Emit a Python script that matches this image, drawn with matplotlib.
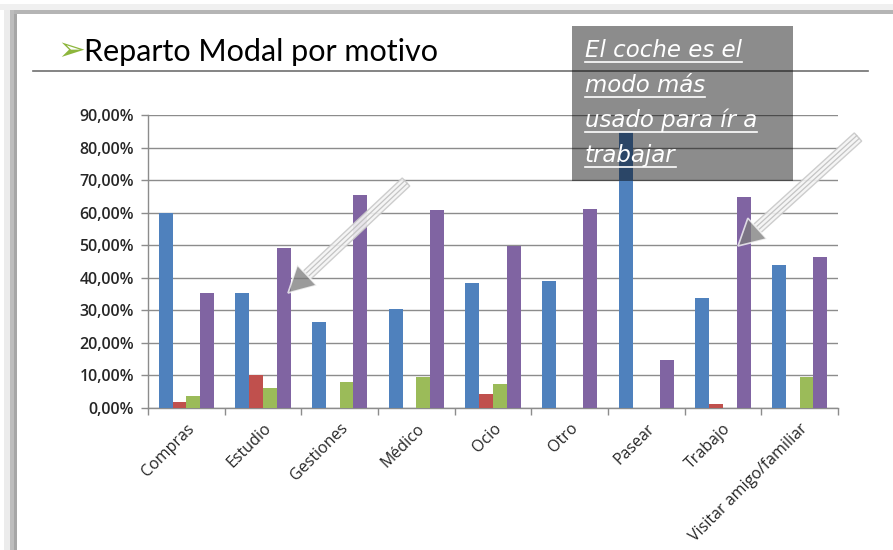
import numpy as np
import matplotlib
matplotlib.use('Agg')
import matplotlib.pyplot as plt
from matplotlib.patches import Rectangle, Polygon
from matplotlib.ticker import FuncFormatter, FixedLocator

motivos = ['Compras', 'Estudio', 'Gestiones', 'Médico', 'Ocio', 'Otro',
           'Pasear', 'Trabajo', 'Visitar amigo/familiar']
serie_azul = [60.0, 35.2, 26.5, 30.3, 38.4, 39.0, 84.8, 33.8, 44.0]
serie_roja = [1.9, 10.0, 0.0, 0.0, 4.3, 0.0, 0.0, 1.2, 0.0]
serie_verde = [3.7, 6.0, 8.1, 9.4, 7.3, 0.0, 0.0, 0.0, 9.4]
serie_morada = [35.2, 49.0, 65.3, 60.7, 49.8, 61.1, 14.7, 64.8, 46.5]
colores = ['#4F81BD', '#C0504D', '#9BBB59', '#8064A2']

titulo = 'Reparto Modal por motivo'
nota = ['El coche es el', 'modo más', 'usado para ír a', 'trabajar']

W, H = 893, 550
fig = plt.figure(figsize=(W / 100, H / 100), dpi=100)
fig.patch.set_facecolor('white')


def px_axes(x0, y0, x1, y1):
    # axes box given in pixel coords (y measured from top)
    return [x0 / W, 1 - y1 / H, (x1 - x0) / W, (y1 - y0) / H]


ax = fig.add_axes(px_axes(148, 115, 838, 408))
x = np.arange(len(motivos))
bw = 0.18
for k, serie in enumerate([serie_azul, serie_roja, serie_verde, serie_morada]):
    ax.bar(x + (k - 1.5) * bw, serie, width=bw, color=colores[k], linewidth=0, zorder=3)

ax.set_xlim(-0.5, len(motivos) - 0.5)
ax.set_ylim(0, 90)
ax.set_yticks(np.arange(0, 91, 10))
ax.yaxis.set_major_formatter(FuncFormatter(lambda v, p: f'{v:.2f}%'.replace('.', ',')))
ax.yaxis.grid(True, color='#8c8c8c', linewidth=1, zorder=0)
ax.set_axisbelow(True)

ax.set_xticks(x)
ax.set_xticklabels(motivos, rotation=45, ha='right', rotation_mode='anchor',
                   fontsize=11.5, family='Open Sans', color='#262626')
ax.xaxis.set_minor_locator(FixedLocator(np.arange(-0.5, len(motivos), 1.0)))
ax.tick_params(axis='x', which='major', length=0, pad=9)
ax.tick_params(axis='x', which='minor', length=5, color='#8c8c8c', width=1)
ax.tick_params(axis='y', length=5, color='#8c8c8c', width=1, pad=5,
               labelsize=11.5, labelcolor='#262626')
for lab in ax.get_yticklabels():
    lab.set_family('Open Sans')
    lab.set_fontweight('semibold')

for s in ['top', 'right']:
    ax.spines[s].set_visible(False)
for s in ['left', 'bottom']:
    ax.spines[s].set_color('#8c8c8c')
    ax.spines[s].set_linewidth(1)

# overlay in pixel coordinates for slide decorations
ov = fig.add_axes([0, 0, 1, 1])
ov.set_xlim(0, W)
ov.set_ylim(H, 0)
ov.axis('off')
ov.patch.set_alpha(0)

# slide frame
ov.add_patch(Rectangle((0, 4), W, 6, color='#f0f0f0', lw=0))
ov.add_patch(Rectangle((9, 10), W, 4, color='#b5b5b5', lw=0))
ov.add_patch(Rectangle((4, 10), 6, H, color='#ececec', lw=0))
ov.add_patch(Rectangle((10, 10), 4, H, color='#bdbdbd', lw=0))
ov.add_patch(Rectangle((14, 14), 3, H, color='#a6a6a6', lw=0))

# title
ov.text(57, 51, '➢', fontsize=24, color='#8DB63C', family='DejaVu Sans', va='center', ha='left')
ov.text(84, 52, titulo, fontsize=22, color='black', family='Lato', va='center', ha='left')
ov.plot([33, 868], [71, 71], color='#6f6f6f', lw=1.2)


def flecha(tail, tip, shaft_w=11, head_w=28, head_l=26):
    t = np.array(tail, float)
    p = np.array(tip, float)
    u = (p - t) / np.linalg.norm(p - t)
    n = np.array([-u[1], u[0]])
    base = p - u * head_l
    shaft = [t + n * shaft_w / 2, base + n * shaft_w / 2,
             base - n * shaft_w / 2, t - n * shaft_w / 2]
    ov.add_patch(Polygon(shaft, closed=True, facecolor='#f4f4f4', edgecolor='#c8c8c8',
                         lw=1, alpha=0.9, zorder=5))
    for f in (-0.17, 0.17):
        a = t + n * shaft_w * f
        b = base + n * shaft_w * f
        ov.plot([a[0], b[0]], [a[1], b[1]], color='#c4c4c4', lw=0.9, zorder=6)
    head = [p, base + n * head_w / 2, base - n * head_w / 2]
    ov.add_patch(Polygon(head, closed=True, facecolor='#7a7a7a', edgecolor='white',
                         lw=1.2, alpha=0.75, zorder=6))


flecha((406, 182), (288, 293))
flecha((858, 137), (738, 246))

# callout box
ov.add_patch(Rectangle((572, 26), 221, 155, facecolor='black', alpha=0.45, lw=0, zorder=7))
fig.canvas.draw()
renderer = fig.canvas.get_renderer()
inv = ov.transData.inverted()
for i, linea in enumerate(nota):
    yb = 57 + i * 35
    t = ov.text(585, yb, linea, fontsize=16.5, color='white', family='DejaVu Sans',
                style='oblique', va='baseline', ha='left', zorder=8)
    bb = t.get_window_extent(renderer)
    (x0, _), (x1, _) = inv.transform([[bb.x0, bb.y0], [bb.x1, bb.y1]])
    ov.plot([x0, x1], [yb + 5, yb + 5], color='white', lw=1.2, zorder=8)

fig.savefig('out.png', dpi=100, facecolor='white')
